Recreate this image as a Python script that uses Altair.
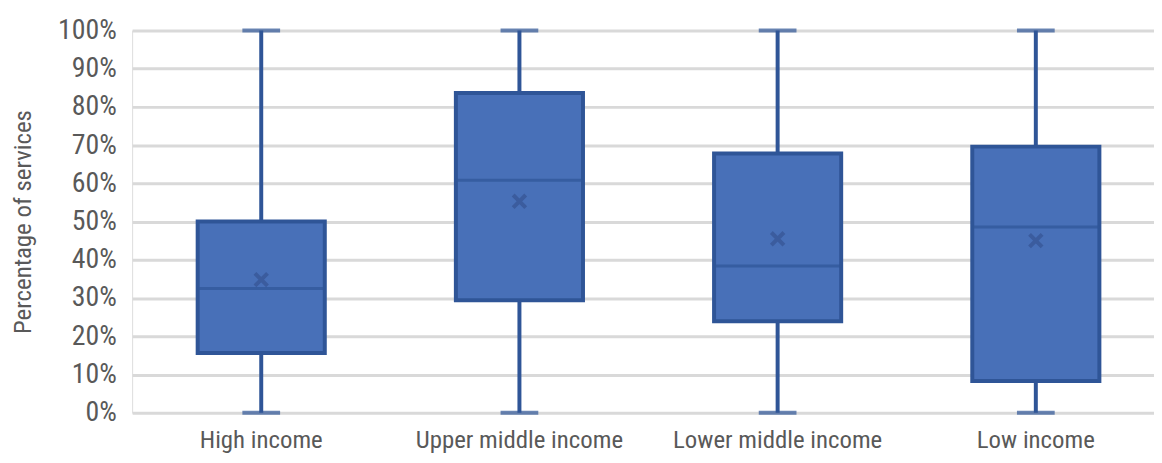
import altair as alt
import pandas as pd

categories = ["High income", "Upper middle income", "Lower middle income", "Low income"]
lower_whisker = [0.0, 0.0, 0.0, 0.0]
upper_whisker = [1.0, 1.0, 1.0, 1.0]
q1 = [0.156, 0.294, 0.239, 0.083]
q3 = [0.500, 0.836, 0.678, 0.696]
median = [0.325, 0.608, 0.384, 0.486]
mean = [0.348, 0.553, 0.455, 0.450]
y_ticks = [i / 10 for i in range(11)]

df = pd.DataFrame({
    "cat": categories, "lo": lower_whisker, "hi": upper_whisker,
    "q1": q1, "q3": q3, "med": median, "mean": mean,
})

FONT = "Liberation Sans Narrow, Roboto Condensed, DejaVu Sans Condensed, sans-serif"
FILL = "#4870b8"
DARK = "#2f5597"

xenc = alt.X("cat:N", sort=categories, title=None,
             scale=alt.Scale(range=[0, 1040], paddingInner=0, paddingOuter=0),
             axis=alt.Axis(labelAngle=0, domain=False, ticks=False, labelFontSize=25,
                           labelPadding=15, labelColor="#595959", labelFont=FONT,
                           labelLimit=0, labelOverlap=False))
yscale = alt.Scale(domain=[0, 1])
yaxis = alt.Axis(values=y_ticks, format=".0%", domain=False, ticks=False,
                 labelFontSize=28, labelPadding=16, labelColor="#595959",
                 labelFont=FONT, labelOverlap=False, labelLimit=0,
                 titleFont=FONT, titleFontSize=25,
                 titleFontWeight="normal", titleColor="#595959",
                 titlePadding=22, gridColor="#d9d9d9", gridWidth=3)
YT = "Percentage of services"

base = alt.Chart(df)

whisker = base.mark_rule(color=DARK, strokeWidth=4).encode(
    x=xenc,
    y=alt.Y("lo:Q", scale=yscale, title=YT, axis=yaxis),
    y2="hi:Q",
)

cap_lo = base.mark_tick(color=DARK, thickness=4, size=38, orient="horizontal").encode(
    x=alt.X("cat:N", sort=categories), y=alt.Y("lo:Q", scale=yscale, axis=yaxis, title=YT))
cap_hi = base.mark_tick(color=DARK, thickness=4, size=38, orient="horizontal").encode(
    x=alt.X("cat:N", sort=categories), y=alt.Y("hi:Q", scale=yscale, axis=yaxis, title=YT))

box = base.mark_bar(fill=FILL, stroke=DARK, strokeWidth=4,
                    width=alt.RelativeBandSize(128 / 260)).encode(
    x=alt.X("cat:N", sort=categories),
    y=alt.Y("q1:Q", scale=yscale, axis=yaxis, title=YT), y2="q3:Q")

med = base.mark_tick(color=DARK, thickness=3, size=128, orient="horizontal").encode(
    x=alt.X("cat:N", sort=categories),
    y=alt.Y("med:Q", scale=yscale, axis=yaxis, title=YT))

mean_pt = base.mark_point(shape="M-1,-1L1,1M-1,1L1,-1", size=160, filled=False,
                          stroke="#3b5c9e", strokeWidth=4, opacity=1).encode(
    x=alt.X("cat:N", sort=categories),
    y=alt.Y("mean:Q", scale=yscale, axis=yaxis, title=YT))

chart = alt.layer(whisker, cap_lo, cap_hi, box, med, mean_pt).properties(
    width=1029, height=385,
    padding={"left": 125, "top": 21, "right": 0, "bottom": 41},
    autosize=alt.AutoSizeParams(type="none"),
).configure_view(stroke=None).configure_axis(labelOverlap=False).configure(background="white")

chart.save("out.html", embed_options={"renderer": "svg", "actions": False})
